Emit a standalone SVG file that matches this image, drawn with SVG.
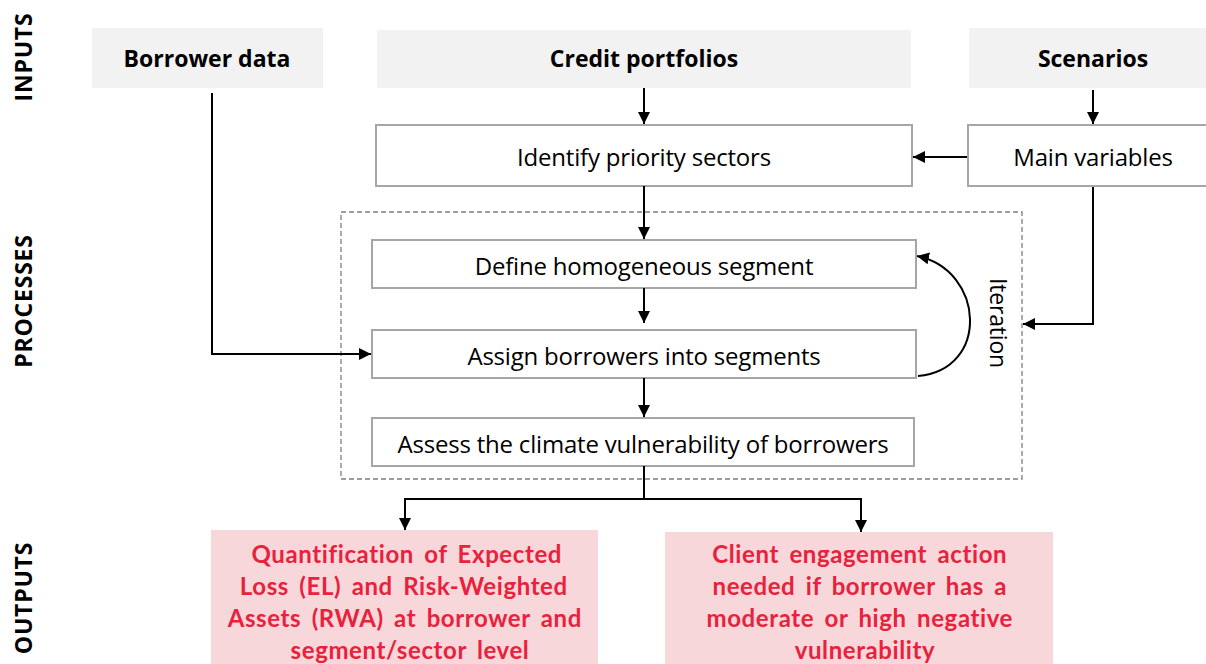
<svg xmlns="http://www.w3.org/2000/svg" width="1206" height="664" viewBox="0 0 1206 664">
<style>
.lab{font-family:"Open Sans","DejaVu Sans",sans-serif;font-weight:bold;font-size:23px;fill:#000;letter-spacing:0.8px}
.inbox{fill:#f2f2f2;stroke:none}
.intx{font-family:"Open Sans","DejaVu Sans",sans-serif;font-weight:bold;font-size:23px;fill:#000}
.pbox{fill:#fff;stroke:#a6a6a6;stroke-width:2}
.ptx{font-family:"Open Sans","DejaVu Sans",sans-serif;font-size:24px;fill:#000;letter-spacing:-0.2px}
.obox{fill:#f8d7da;stroke:none}
.otx{font-family:"Lato","Open Sans",sans-serif;font-weight:bold;font-size:24px;fill:#e8213c;letter-spacing:0.6px;word-spacing:4px}
.con{fill:none;stroke:#000;stroke-width:2}
</style>
<defs>
<marker id="ah" viewBox="0 0 10 10" refX="10" refY="5" markerWidth="6" markerHeight="6" markerUnits="strokeWidth" orient="auto">
<path d="M0,0 L10,5 L0,10 Z" fill="#000"/>
</marker>
</defs>
<rect width="1206" height="664" fill="#fff"/>
<g id="lanes">
<text class="lab" transform="translate(32,57) rotate(-90)" text-anchor="middle">INPUTS</text>
<text class="lab" transform="translate(32,301) rotate(-90)" text-anchor="middle">PROCESSES</text>
<text class="lab" transform="translate(32,598) rotate(-90)" text-anchor="middle">OUTPUTS</text>
</g>
<g id="iteration-group">
<rect x="341" y="212" width="681" height="267" fill="none" stroke="#7f7f7f" stroke-width="1.3" stroke-dasharray="5,3"/>
<text class="ptx" style="font-size:23px" transform="translate(990,323) rotate(90)" text-anchor="middle">Iteration</text>
</g>
<g id="borrower-data">
<rect class="inbox" x="92" y="28" width="231" height="60"/>
<text class="intx" x="207" y="67" text-anchor="middle">Borrower data</text>
</g>
<g id="credit-portfolios">
<rect class="inbox" x="377" y="30" width="534" height="58"/>
<text class="intx" x="644" y="67" text-anchor="middle">Credit portfolios</text>
</g>
<g id="scenarios">
<rect class="inbox" x="969" y="28" width="237" height="60"/>
<text class="intx" x="1093" y="67" text-anchor="middle">Scenarios</text>
</g>
<g id="identify">
<rect class="pbox" x="376" y="125" width="536" height="61"/>
<text class="ptx" x="644" y="166" text-anchor="middle">Identify priority sectors</text>
</g>
<g id="main-variables">
<rect class="pbox" x="968" y="125" width="240" height="61"/>
<text class="ptx" x="1093" y="166" text-anchor="middle">Main variables</text>
</g>
<g id="define">
<rect class="pbox" x="372" y="240" width="544" height="48"/>
<text class="ptx" x="644" y="275" text-anchor="middle">Define homogeneous segment</text>
</g>
<g id="assign">
<rect class="pbox" x="372" y="330" width="544" height="48"/>
<text class="ptx" x="644" y="365" text-anchor="middle">Assign borrowers into segments</text>
</g>
<g id="assess">
<rect class="pbox" x="372" y="418" width="542" height="48"/>
<text class="ptx" x="643" y="453" text-anchor="middle">Assess the climate vulnerability of borrowers</text>
</g>
<g id="output-quantification">
<rect class="obox" x="211" y="530" width="387" height="134"/>
<text class="otx" text-anchor="middle">
<tspan x="412" y="563">Quantification of Expected</tspan>
<tspan x="409" y="595">Loss (EL) and Risk-Weighted</tspan>
<tspan x="410" y="627">Assets (RWA) at borrower and</tspan>
<tspan x="410" y="659">segment/sector level</tspan>
</text>
</g>
<g id="output-engagement">
<rect class="obox" x="665" y="532" width="388" height="132"/>
<text class="otx" text-anchor="middle">
<tspan x="865" y="563">Client engagement action</tspan>
<tspan x="865" y="595">needed if borrower has a</tspan>
<tspan x="865" y="627">moderate or high negative</tspan>
<tspan x="865" y="659">vulnerability</tspan>
</text>
</g>
<g id="connectors">
<path class="con" d="M644,88 V124" marker-end="url(#ah)"/>
<path class="con" d="M1093,90 V124" marker-end="url(#ah)"/>
<path class="con" d="M967,157 H913" marker-end="url(#ah)"/>
<path class="con" d="M644,186 V239" marker-end="url(#ah)"/>
<path class="con" d="M644,288 V323" marker-end="url(#ah)"/>
<path class="con" d="M644,378 V417" marker-end="url(#ah)"/>
<path class="con" d="M212,93 V354 H371" marker-end="url(#ah)"/>
<path class="con" d="M1093,187 V324 H1023" marker-end="url(#ah)"/>
<path class="con" d="M918,376 C990,370 985,270 917,256" marker-end="url(#ah)"/>
<path class="con" d="M644,466 V499 H861 V532" marker-end="url(#ah)"/>
<path class="con" d="M644,499 H405 V530" marker-end="url(#ah)"/>
</g>
</svg>
